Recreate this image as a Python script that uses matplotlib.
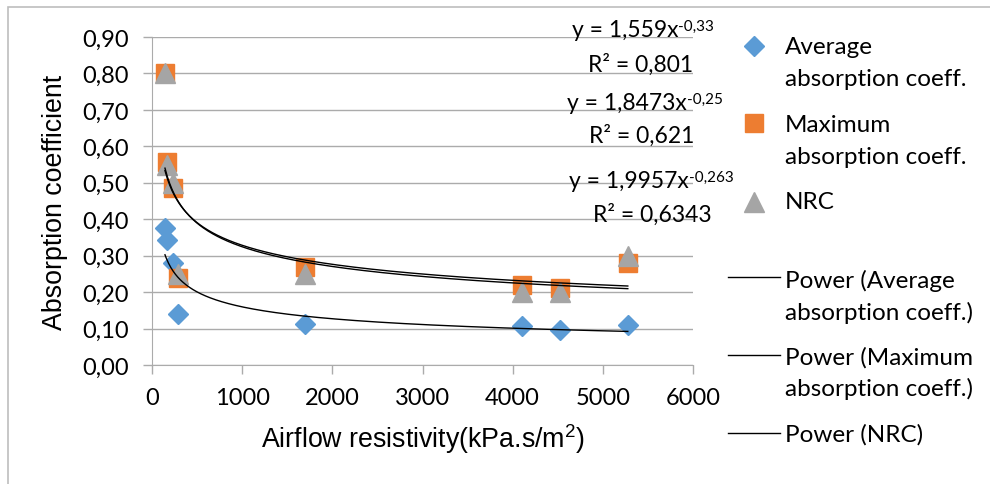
import numpy as np
import matplotlib
matplotlib.use("Agg")
import matplotlib.pyplot as plt
from matplotlib.lines import Line2D
from matplotlib.patches import Rectangle

plt.rcParams['font.family'] = ['Lato', 'DejaVu Sans']
plt.rcParams['mathtext.default'] = 'regular'

# Data
resistivity = [144, 166, 233, 288, 1696, 4100, 4523, 5277]
avg_coeff = [0.376, 0.342, 0.281, 0.141, 0.112, 0.107, 0.095, 0.111]
max_coeff = [0.80, 0.557, 0.485, 0.240, 0.270, 0.220, 0.210, 0.280]
nrc = [0.80, 0.55, 0.50, 0.25, 0.25, 0.20, 0.20, 0.30]

# power trendlines y = a * x^b  (from the chart's equations)
fits = {
    "avg": (1.559, -0.33, "1,559", "-0,33", "0,801"),
    "max": (1.8473, -0.25, "1,8473", "-0,25", "0,621"),
    "nrc": (1.9957, -0.263, "1,9957", "-0,263", "0,6343"),
}

BLUE = '#5B9BD5'
ORANGE = '#ED7D31'
GREY = '#A5A5A5'
GRID = '#ABABAB'

W, H = 990, 485
fig = plt.figure(figsize=(W / 100, H / 100), dpi=100)

def fx(px):
    return px / W

def fy(py):
    return 1 - py / H

# outer chart frame
fig.add_artist(Rectangle((fx(8), fy(500)), 1.2, fy(8) - fy(500), transform=fig.transFigure,
                         fill=False, edgecolor='#BDBDBD', linewidth=1.2))

ax = fig.add_axes([fx(152), fy(366), fx(693) - fx(152), fy(38) - fy(366)])

ax.plot(resistivity, avg_coeff, 'D', color=BLUE, markersize=10, linestyle='none', zorder=3)
ax.plot(resistivity, max_coeff, 's', color=ORANGE, markersize=12.5, linestyle='none', zorder=4)
ax.plot(resistivity, nrc, '^', color=GREY, markersize=14, linestyle='none', zorder=5)

x_fit = np.linspace(min(resistivity), max(resistivity), 400)
for key in ["avg", "max", "nrc"]:
    a, b = fits[key][0], fits[key][1]
    ax.plot(x_fit, a * x_fit ** b, color='black', linewidth=1.0, zorder=6)

ax.set_xlim(0, 6000)
ax.set_ylim(0, 0.9)
ax.set_xticks(np.arange(0, 6001, 1000))
ax.set_yticks(np.arange(0, 0.91, 0.1))
ax.set_yticklabels([f"{v:.2f}".replace('.', ',') for v in np.arange(0, 0.91, 0.1)])
ax.tick_params(axis='both', labelsize=17, colors=GRID, labelcolor='black', length=6.5, width=1)
ax.tick_params(axis='y', pad=10)
ax.tick_params(axis='x', pad=9)
ax.yaxis.grid(True, color=GRID, linewidth=1)
ax.set_axisbelow(True)
for s in ['top', 'right']:
    ax.spines[s].set_visible(False)
for s in ['left', 'bottom']:
    ax.spines[s].set_color(GRID)

ax.set_ylabel("Absorption coefficient", fontsize=19.3, family='Liberation Sans', labelpad=10)
ax.set_xlabel("Airflow resistivity(kPa.s/m$^2$)", fontsize=19.3, family='Liberation Sans', labelpad=10)

# trendline equations: (end of "y = ...x", its baseline, centre of R² line, its baseline)
eq_pos = [(678, 37, 641, 72), (687, 110, 642, 143), (689, 188, 652, 222)]
for key, (ex, ey, rx, ry) in zip(["avg", "max", "nrc"], eq_pos):
    _, _, a_txt, b_txt, r_txt = fits[key]
    fig.text(fx(ex), fy(ey), f"y = {a_txt}x", ha='right', va='baseline', fontsize=16.5)
    fig.text(fx(ex), fy(ey - 6), b_txt, ha='left', va='baseline', fontsize=11)
    fig.text(fx(rx), fy(ry), f"R² = {r_txt}", ha='center', va='baseline', fontsize=16.5)

# legend (drawn by hand to match the Excel layout)
legend_items = [
    ('D', BLUE, 10, ["Average", "absorption coeff."], 47, 54),
    ('s', ORANGE, 12.5, ["Maximum", "absorption coeff."], 124, 132),
    ('^', GREY, 14, ["NRC"], 203, 209),
    (None, 'black', 0, ["Power (Average", "absorption coeff.)"], 278, 288),
    (None, 'black', 0, ["Power (Maximum", "absorption coeff.)"], 356, 365),
    (None, 'black', 0, ["Power (NRC)"], 434, 442),
]
for marker, color, ms, lines, my, base in legend_items:
    if marker:
        fig.add_artist(Line2D([fx(754)], [fy(my)], marker=marker, color=color, markersize=ms,
                              linestyle='none', transform=fig.transFigure))
    else:
        fig.add_artist(Line2D([fx(728), fx(780)], [fy(my), fy(my)], color=color, linewidth=1.0,
                              transform=fig.transFigure))
    for i, line in enumerate(lines):
        fig.text(fx(785), fy(base + i * 31.5), line, ha='left', va='baseline', fontsize=17.5)

fig.savefig("out.png", dpi=100)
